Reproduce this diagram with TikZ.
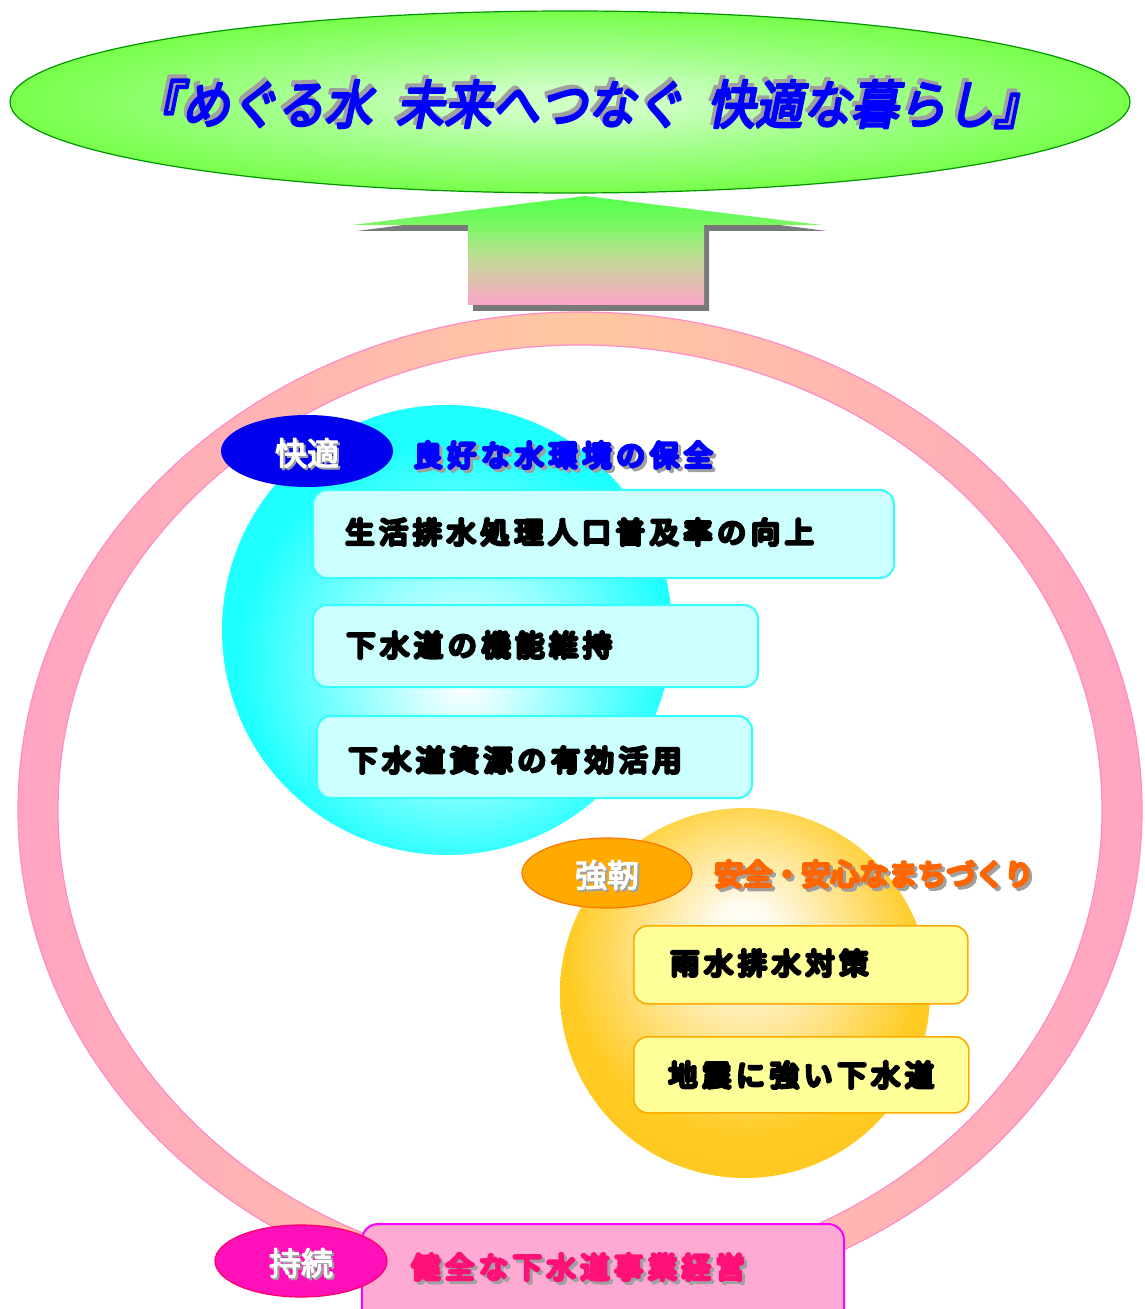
\documentclass[tikz,border=0pt]{standalone}
\usepackage{fontspec}
\usepackage{graphicx}
\usetikzlibrary{shapes.geometric}
\newfontfamily\ttlfont{Noto Sans CJK JP}[FakeSlant=0.22]
\newfontfamily\hvyfont{Noto Sans CJK JP}
\newfontfamily\lblfont{Noto Sans CJK JP}
\def\spcdend{}
\def\spcd#1{\spcdloop#1\spcdend}
\def\spcdloop#1{\ifx#1\spcdend\else#1\hspace{2.4pt}\expandafter\spcdloop\fi}
\newcommand\strk[2]{\special{pdf:literal direct 1 j 2 Tr #1 w}#2\special{pdf:literal direct 0 Tr}}

\definecolor{ttlgreen}{RGB}{102,255,51}
\definecolor{ttlcenter}{RGB}{205,255,195}
\definecolor{ttlmidA}{RGB}{160,255,135}
\definecolor{ttlmidB}{RGB}{120,255,75}
\definecolor{ttlline}{RGB}{0,150,0}
\definecolor{ringpink}{RGB}{255,153,204}
\definecolor{ringpeach}{RGB}{255,200,160}
\definecolor{ringline}{RGB}{255,140,200}
\definecolor{cyanedge}{RGB}{30,255,255}
\definecolor{boxcyan}{RGB}{204,255,255}
\definecolor{boxcyanline}{RGB}{51,255,255}
\definecolor{goldedge}{RGB}{255,203,35}
\definecolor{goldout}{RGB}{255,190,20}
\definecolor{boxyellow}{RGB}{255,255,153}
\definecolor{boxorange}{RGB}{255,170,0}
\definecolor{pinkbox}{RGB}{255,170,212}
\definecolor{pinkline}{RGB}{255,0,255}
\definecolor{lblmag}{RGB}{255,16,184}
\definecolor{lblmagline}{RGB}{255,0,100}
\definecolor{lblblue}{RGB}{0,0,238}
\definecolor{lblorange}{RGB}{255,170,0}
\definecolor{lblorangeline}{RGB}{255,119,0}
\definecolor{txtblue}{RGB}{0,0,255}
\definecolor{txtorange}{RGB}{255,102,0}
\definecolor{txtpink}{RGB}{255,17,119}
\definecolor{shadowgray}{RGB}{160,160,160}
\definecolor{arA}{RGB}{255,153,204}
\definecolor{arB}{RGB}{245,168,195}
\definecolor{arC}{RGB}{200,215,155}
\definecolor{arD}{RGB}{130,245,105}
\definecolor{arE}{RGB}{90,255,80}
\definecolor{arF}{RGB}{51,255,51}

\pgfdeclareradialshading{titleshade}{\pgfpoint{0bp}{0bp}}{color(0bp)=(ttlcenter); color(4bp)=(ttlcenter); color(14bp)=(ttlmidA); color(25bp)=(ttlmidB); color(37bp)=(ttlgreen); color(50bp)=(ttlgreen)}
\pgfdeclareradialshading{cyanball}{\pgfpoint{2bp}{-6bp}}{color(0bp)=(white); color(4bp)=(white!85!cyanedge); color(24bp)=(cyanedge); color(50bp)=(cyanedge)}
\pgfdeclareradialshading{goldball}{\pgfpoint{0bp}{9bp}}{color(0bp)=(white); color(4bp)=(white!92!goldedge); color(24bp)=(goldedge); color(50bp)=(goldout)}
\pgfdeclarehorizontalshading{ringshade}{100bp}{color(0bp)=(ringpink); color(18bp)=(ringpink); color(50bp)=(ringpeach); color(82bp)=(ringpink); color(100bp)=(ringpink)}
\pgfdeclareverticalshading{arrowshade}{100bp}{color(0bp)=(arA); color(12bp)=(arA); color(27bp)=(arB); color(45bp)=(arC); color(60bp)=(arD); color(72bp)=(arE); color(100bp)=(arF)}

\begin{document}
\begin{tikzpicture}[x=0.5pt,y=-0.5pt,
  cbox/.style={rectangle,rounded corners=7pt,fill=boxcyan,draw=boxcyanline,line width=1pt,anchor=north west,inner sep=0pt},
  ybox/.style={rectangle,rounded corners=7pt,fill=boxyellow,draw=boxorange,line width=0.8pt,anchor=north west,inner sep=0pt},
  pbox/.style={rectangle,rounded corners=8pt,fill=pinkbox,draw=pinkline,line width=1pt,anchor=north west,inner sep=0pt},
  boxtxt/.style={anchor=west,inner sep=0pt,font=\hvyfont\fontsize{14.5pt}{16pt}\selectfont},
  ttltxt/.style={inner sep=0pt,font=\ttlfont\fontsize{26pt}{29pt}\selectfont},
  lbl/.style={ellipse,inner sep=0pt},
  lbltxt/.style={inner sep=0pt,text=white,font=\lblfont\fontsize{16pt}{18pt}\selectfont},
  shd/.style={text=shadowgray}]
\useasboundingbox (0,0) rectangle (1144,1309);

% ring
\shade[shading=ringshade,even odd rule] (580,810) ellipse [x radius=562,y radius=498] (580,810) ellipse [x radius=522,y radius=465];
\draw[ringline,line width=0.6pt] (580,810) ellipse [x radius=562,y radius=498] (580,810) ellipse [x radius=522,y radius=465];

% title ellipse (radial shading squashed into an ellipse)
\shade[shading=titleshade,transform canvas={yscale=0.1625}] (570,627.69) circle [radius=560];
\node[ellipse,minimum width=560pt,minimum height=91pt,draw=ttlline,line width=0.6pt] (title) at (570,102) {};
\node[ttltxt,shd] (titleshd) at (585,100) {\strk{1.3}{\scalebox{0.92}[1]{『めぐる水\hspace{13pt}未来へつなぐ\hspace{13pt}快適な暮らし』}}};
\node[ttltxt,text=txtblue] (titletxt) at (588,104) {\strk{1.3}{\scalebox{0.92}[1]{『めぐる水\hspace{13pt}未来へつなぐ\hspace{13pt}快適な暮らし』}}};

% arrow
\fill[gray!95!black] (590,201) -- (827,231) -- (709,231) -- (709,311) -- (473,311) -- (473,231) -- (357,231) -- cycle;
\shade[shading=arrowshade] (585,196) -- (822,225) -- (704,225) -- (704,305) -- (468,305) -- (468,225) -- (352,225) -- cycle;

% cyan ball and boxes
\node[circle,minimum size=225pt,inner sep=0pt,shading=cyanball] (ball1) at (447,630) {};
\node[cbox,minimum width=290.5pt,minimum height=44pt] (box1) at (312,489) {};
\node[cbox,minimum width=222.5pt,minimum height=41pt] (box2) at (312,604) {};
\node[cbox,minimum width=217.5pt,minimum height=41pt] (box3) at (316,715) {};
\node[boxtxt] (t1) at (345,532) {\strk{1.7}{\spcd{生活排水処理人口普及率の向上}}};
\node[boxtxt] (t2) at (346,645) {\strk{1.7}{\spcd{下水道の機能維持}}};
\node[boxtxt] (t3) at (348,760) {\strk{1.7}{\spcd{下水道資源の有効活用}}};

% gold ball and boxes
\node[circle,minimum size=185pt,inner sep=0pt,shading=goldball] (ball2) at (745,993) {};
\node[ybox,minimum width=167pt,minimum height=39pt] (box4) at (633,925) {};
\node[ybox,minimum width=167.5pt,minimum height=38pt] (box5) at (633,1036) {};
\node[boxtxt] (t4) at (670,963) {\strk{1.7}{\spcd{雨水排水対策}}};
\node[boxtxt] (t5) at (668,1075) {\strk{1.7}{\spcd{地震に強い下水道}}};

% bottom pink box
\node[pbox,minimum width=241pt,minimum height=60pt] (box6) at (361,1223) {};

% headings
\node[boxtxt,shd] (h1s) at (416,458) {\strk{1.7}{\spcd{良好な水環境の保全}}};
\node[boxtxt,text=txtblue] (h1) at (413,455) {\strk{1.7}{\spcd{良好な水環境の保全}}};
\node[boxtxt,shd] (h2s) at (717,877) {\strk{1.7}{安全・安心なまちづくり}};
\node[boxtxt,text=txtorange] (h2) at (714,874) {\strk{1.7}{安全・安心なまちづくり}};
\node[boxtxt,shd] (h3s) at (414,1270) {\strk{1.7}{\spcd{健全な下水道事業経営}}};
\node[boxtxt,text=txtpink] (h3) at (411,1267) {\strk{1.7}{\spcd{健全な下水道事業経営}}};

% labels
\node[lbl,minimum width=86pt,minimum height=36pt,fill=lblblue] (e1) at (307,451) {};
\node[lbltxt,text=shadowgray] (e1s) at (309,455) {\strk{0.6}{快適}};
\node[lbltxt] (e1t) at (307,453) {\strk{0.6}{快適}};
\node[lbl,minimum width=85pt,minimum height=35pt,fill=lblorange,draw=lblorangeline,line width=0.6pt] (e2) at (607,873) {};
\node[lbltxt,text=shadowgray] (e2s) at (609,877) {\strk{0.6}{強靭}};
\node[lbltxt] (e2t) at (607,875) {\strk{0.6}{強靭}};
\node[lbl,minimum width=86pt,minimum height=36pt,fill=lblmag,draw=lblmagline,line width=0.6pt] (e3) at (301,1261) {};
\node[lbltxt,text=shadowgray] (e3s) at (303,1265) {\strk{0.6}{持続}};
\node[lbltxt] (e3t) at (301,1263) {\strk{0.6}{持続}};
\end{tikzpicture}
\end{document}
